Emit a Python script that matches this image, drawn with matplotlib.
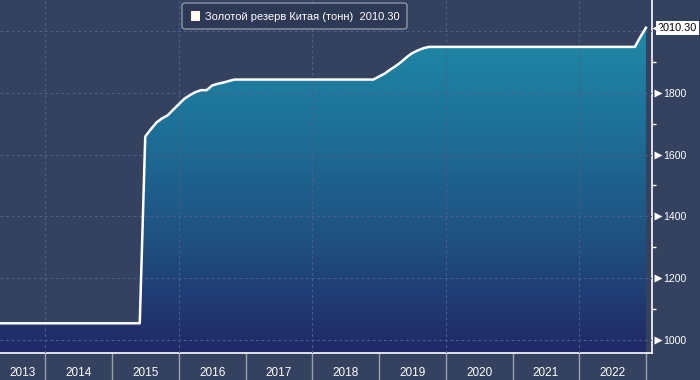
import numpy as np
import pandas as pd
import matplotlib
matplotlib.use("Agg")
import matplotlib.pyplot as plt
import matplotlib.dates as mdates
from matplotlib.transforms import blended_transform_factory, ScaledTranslation
from matplotlib.colors import LinearSegmentedColormap
from matplotlib.patches import FancyBboxPatch, Rectangle

# China gold reserves, tonnes (breakpoints of the line)
dates = [
    "2013-04", "2015-06", "2015-07", "2015-08", "2015-09", "2015-10", "2015-11",
    "2015-12", "2016-01", "2016-02", "2016-03", "2016-04", "2016-05", "2016-06",
    "2016-07", "2016-08", "2016-09", "2016-10", "2016-11", "2018-12", "2019-01",
    "2019-02", "2019-03", "2019-04", "2019-05", "2019-06", "2019-07", "2019-08",
    "2019-09", "2019-10", "2022-11", "2022-12", "2023-01",
]
reserves = [
    1054.1, 1054.1, 1658.1, 1682.0, 1704.0, 1717.0, 1727.0,
    1745.0, 1763.0, 1781.0, 1792.0, 1802.0, 1808.3, 1808.3,
    1823.3, 1829.0, 1833.0, 1838.0, 1842.6, 1842.6, 1852.5,
    1862.0, 1874.0, 1886.0, 1899.0, 1915.0, 1928.0, 1937.0,
    1944.0, 1948.3, 1948.3, 1980.3, 2010.3,
]
years = list(range(2013, 2023))
yticks = [1000, 1200, 1400, 1600, 1800, 2000]
legend_label = "Золотой резерв Китая (тонн)"

BG = "#344260"
GRID = "#49608a"
FONT = ["Liberation Sans", "DejaVu Sans"]
plt.rcParams["font.family"] = FONT

x = pd.to_datetime(dates)
xn = mdates.date2num(x)
xmin = mdates.date2num(pd.Timestamp("2013-04-27"))
xmax = mdates.date2num(pd.Timestamp("2023-02-03"))
ymin, ymax = 958, 2100

fig = plt.figure(figsize=(7, 3.8), dpi=100, facecolor=BG)
ax = fig.add_axes([0, 27 / 380, 652 / 700, 353 / 380])
ax.set_facecolor(BG)

# gradient fill under the line
poly = ax.fill_between(xn, reserves, ymin, color="none", lw=0)
cmap = LinearSegmentedColormap.from_list("g", ["#212867", "#1f4f80", "#1d6e96", "#1f8aa8"])
grad = np.linspace(0, 1, 256).reshape(-1, 1)
img = ax.imshow(grad, cmap=cmap, aspect="auto", origin="lower",
                extent=[xmin, xmax, ymin, 2010.3], zorder=1)
img.set_clip_path(poly.get_paths()[0], transform=ax.transData)

ax.plot(xn, reserves, color="white", lw=1.8, zorder=4, solid_joinstyle="round")

ax.set_xlim(xmin, xmax)
ax.set_ylim(ymin, ymax)

# grid
for yv in yticks:
    ax.axhline(yv, color=GRID, lw=0.8, ls=(0, (2.5, 2.5)), zorder=3)
for yr in range(2014, 2024, 2):
    ax.axvline(mdates.date2num(pd.Timestamp(f"{yr}-01-01")), color=GRID, lw=0.8,
               ls=(0, (2.5, 2.5)), zorder=3)

# x axis: separators at year starts, labels centred in visible span
sep = [mdates.date2num(pd.Timestamp(f"{y}-01-01")) for y in range(2014, 2024)]
ax.set_xticks(sep)
ax.set_xticklabels([])
ax.tick_params(axis="x", which="major", length=19.5, width=1, color="#9aa2b0", direction="out")
centers = []
for y in years:
    a = max(mdates.date2num(pd.Timestamp(f"{y}-01-01")), xmin)
    b = min(mdates.date2num(pd.Timestamp(f"{y + 1}-01-01")), xmax)
    centers.append((a + b) / 2)
ax.set_xticks(centers, minor=True)
ax.set_xticklabels([str(y) for y in years], minor=True)
ax.tick_params(axis="x", which="minor", length=0, pad=10, labelsize=8.5, labelcolor="white")

# y axis on the right
ax.yaxis.tick_right()
ax.set_yticks(yticks)
ax.set_yticklabels([str(v) for v in yticks[:-1]] + [""])
ax.set_yticks(np.arange(1100, 2100, 200), minor=True)
ax.tick_params(axis="y", which="major", length=0, pad=8, labelsize=7.6, labelcolor="white")
ax.tick_params(axis="y", which="minor", length=3, width=1, color="white", direction="out")

tri = blended_transform_factory(ax.transAxes, ax.transData) + \
    ScaledTranslation(4.2 / 72, 0, fig.dpi_scale_trans)
ax.plot([1] * (len(yticks) - 1), yticks[:-1], ls="none", marker=">", ms=6,
        mec="none", mfc="white", transform=tri, clip_on=False, zorder=5)

for s in ["left", "top"]:
    ax.spines[s].set_visible(False)
for s in ["right", "bottom"]:
    ax.spines[s].set_color("white")
    ax.spines[s].set_linewidth(1.2)

# last value tag
last = reserves[-1]
blend = blended_transform_factory(ax.transAxes, ax.transData)
ax.annotate(f"{last:.2f}", xy=(1, last), xycoords=blend, xytext=(6, 0),
            textcoords="offset pixels", ha="left", va="center", fontsize=7.8,
            color="black", bbox=dict(boxstyle="square,pad=0.2", fc="white", ec="none"),
            zorder=6, annotation_clip=False)
tag = blend + ScaledTranslation(3.2 / 72, 0, fig.dpi_scale_trans)
ax.plot([1], [last], ls="none", marker="<", ms=6, mfc="white", mec="none",
        transform=tag, clip_on=False, zorder=6)

# legend box
W, H = 700, 380
fig.patches.append(FancyBboxPatch((182 / W, 1 - 29 / H), 225 / W, 26 / H,
                                  boxstyle="round,pad=0,rounding_size=0.006",
                                  transform=fig.transFigure, fc="#2d3955", ec="#8e96a6",
                                  lw=1, zorder=10))
fig.patches.append(Rectangle((190.5 / W, 1 - 21 / H), 9.5 / W, 9.5 / H,
                             transform=fig.transFigure, fc="#fff8f5", ec="none", zorder=11))
fig.text(205 / W, 1 - 16.5 / H, f"{legend_label}  {last:.2f}", color="white",
         fontsize=8.0, ha="left", va="center", zorder=12)

fig.savefig("out.png", dpi=100, facecolor=BG)
